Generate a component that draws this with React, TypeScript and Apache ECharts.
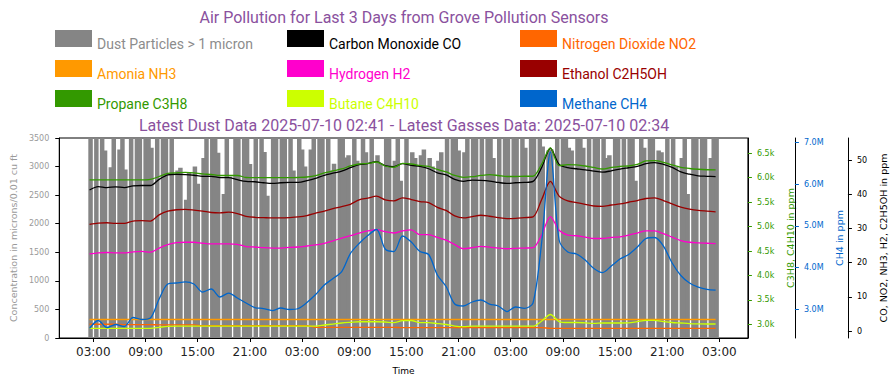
import React, { useEffect, useRef } from "react";
import * as echarts from "echarts";

// ---------------- data ----------------
// Gas readings, hourly from 2025-07-07 02:34 to 2025-07-10 02:34
const gasStart = "2025-07-07 02:34";
const co = [41.3,42.3,42.0,42.2,42.0,42.5,42.6,42.6,44.4,45.7,
  45.9,45.8,45.6,45.3,45.3,44.9,44.9,44.3,43.8,43.7,
  43.4,43.2,43.4,43.5,43.5,44.0,44.7,45.6,46.2,46.8,
  47.8,48.7,49.0,49.6,48.4,48.1,49.0,48.5,48.2,47.5,
  46.3,45.7,44.4,43.8,44.2,44.1,43.9,43.5,43.2,43.4,
  43.5,43.8,47.9,53.5,48.8,47.8,47.5,47.2,46.8,46.5,
  46.9,47.4,47.8,48.2,49.0,49.3,48.8,47.9,46.6,45.9,
  45.4,45.3,45.2];
const no2 = [2.0,2.0,2.0,2.0,1.9,1.9,1.9,1.9,1.8,1.8,
  1.8,1.8,1.8,1.6,1.6,1.6,1.6,1.6,1.6,1.6,
  1.6,1.6,1.6,1.6,1.6,1.6,1.1,1.1,1.1,1.1,
  1.1,1.1,1.1,1.1,1.1,1.1,1.0,1.0,1.0,1.0,
  1.0,1.0,1.0,1.0,1.0,1.0,1.0,1.0,1.0,1.0,
  1.0,1.0,1.0,0.8,0.8,0.8,0.8,0.8,0.8,0.8,
  0.8,0.8,0.8,0.8,0.8,0.8,0.8,0.8,0.8,0.8,
  0.8,0.8,0.8];
const nh3 = [3.4,3.4,3.4,3.4,3.4,3.4,3.4,3.4,3.4,3.4,
  3.4,3.4,3.4,3.4,3.4,3.4,3.4,3.4,3.4,3.4,
  3.4,3.4,3.4,3.4,3.4,3.4,3.4,3.4,3.4,3.4,
  3.4,3.4,3.4,3.4,3.4,3.4,3.4,3.4,3.4,3.4,
  3.4,3.4,3.4,3.4,3.4,3.4,3.4,3.4,3.4,3.4,
  3.4,3.4,3.4,3.4,3.4,3.4,3.4,3.4,3.4,3.4,
  3.4,3.4,3.4,3.4,3.4,3.4,3.4,3.4,3.4,3.4,
  3.4,3.4,3.4];
const h2 = [22.6,22.9,23.0,22.9,22.9,23.2,23.3,23.1,24.3,25.3,
  25.9,26.0,26.0,25.7,25.5,25.5,25.5,25.4,24.7,24.6,
  24.4,24.3,24.3,24.5,24.6,24.9,25.2,25.7,26.4,27.2,
  27.9,28.7,29.3,29.7,29.1,28.7,29.3,29.6,28.2,28.2,
  27.4,26.6,25.3,24.1,24.4,24.8,24.6,24.3,24.1,24.2,
  24.3,24.4,28.2,33.5,29.5,28.1,27.9,27.5,27.1,27.1,
  27.4,27.6,28.1,28.7,29.3,29.3,28.5,27.5,26.5,26.0,
  25.8,25.7,25.6];
const ethanol = [31.2,31.6,31.7,31.5,31.5,32.2,32.3,32.2,34.0,35.1,
  35.5,35.6,35.4,35.1,34.7,34.6,34.8,34.4,33.6,33.3,
  33.2,33.1,33.1,33.2,33.4,33.8,34.5,35.1,35.8,36.4,
  37.1,38.4,38.9,39.5,38.4,38.1,39.0,38.5,37.9,37.6,
  36.2,35.3,33.7,33.1,33.5,33.9,33.6,33.2,32.9,33.0,
  33.2,33.4,38.5,43.8,39.5,38.1,37.6,37.1,36.6,36.5,
  36.9,37.2,37.7,38.2,38.8,39.0,38.2,37.2,36.3,35.7,
  35.3,35.1,34.9];
const propane = [5954,5954,5954,5954,5954,5954,5954,5964,6025,6087,
  6101,6111,6101,6077,6066,6046,6046,6046,6005,6001,
  6001,6001,6001,6001,6005,6015,6042,6097,6138,6179,
  6240,6281,6292,6322,6240,6214,6292,6281,6251,6230,
  6169,6118,6046,6009,6021,6046,6062,6046,6025,6025,
  6030,6030,6281,6609,6247,6267,6261,6240,6210,6179,
  6210,6234,6240,6271,6343,6349,6316,6261,6214,6189,
  6173,6163,6159];
const butane = [2918,2918,2918,2918,2918,2918,2918,2918,2939,2959,
  2965,2965,2965,2965,2965,2965,2965,2965,2965,2965,
  2965,2965,2965,2965,2965,2965,2965,2986,3006,3027,
  3041,3053,3053,3053,3047,3033,3074,3078,3033,3033,
  3016,2996,2965,2951,2961,2961,2961,2961,2961,2961,
  2961,2961,3068,3201,3057,3037,3037,3030,3020,3027,
  3027,3027,3030,3057,3082,3082,3057,3037,3027,3016,
  3010,3006,3006];
const methane = [2545000,2732000,2564000,2636000,2588000,2804000,2756000,2792000,3247000,3606000,
  3630000,3659000,3606000,3414000,3486000,3295000,3390000,3271000,3151000,3043000,
  3019000,2971000,3031000,2995000,3019000,3163000,3354000,3582000,3738000,3905000,
  4337000,4576000,4768000,4911000,4444000,4384000,4756000,4612000,4384000,4313000,
  3822000,3546000,3127000,3079000,3175000,3223000,3127000,3079000,2947000,3055000,
  3024000,3151000,4612000,6768000,4660000,4372000,4325000,4181000,3977000,3879000,
  4037000,4205000,4313000,4492000,4696000,4720000,4516000,4109000,3810000,3630000,
  3534000,3479000,3462000];

// Dust readings every 20 minutes from 2025-07-07 02:41 (null = no reading)
const dustStart = "2025-07-07 02:41";
const dustDay1 = [3800,null,3800,null,3800,3280,null,2990,3800,null,
  3300,3800,2950,null,3800,null,3800,3800,null,3800,
  3800,3330,null,3800,null,3800,3800,null,3800,null,
  2930,2980,null,2420,2900,null,3000,2700,null,3150,
  3800,null,3800,3800,3240,null,2520,3800,2820,null,
  3800,3800,null,3800,3800,3045,null,3800,null,3800,
  3255,2490,null,3800,3800,null,3800,3800,null,3800,
  2930,null];
const dustDay2 = [3800,3300,3000,null,3300,3800,null,3800,3800,null,
  3800,2930,3050,null,3800,3800,3160,3200,null,3800,
  3100,null,3800,3250,null,3800,null,3200,3050,null,
  3800,3800,null,3100,3800,2750,null,3800,null,3250,
  3150,null,3200,3300,null,3150,3000,null,3100,3250,
  null,3800,null,3800,3800,3280,null,3250,3800,null,
  3800,3800,null,3800,null,3800,3800,3150,null,3800,
  null,3800];
const dustDay3 = [3800,null,3800,3800,null,3800,3330,null,3800,3800,
  null,3800,3350,null,3280,3300,null,3800,null,3800,
  3800,3330,3280,null,3800,3800,3330,null,3800,null,
  3800,3800,null,3800,3150,3200,null,3800,3800,null,
  3800,null,3800,3800,2750,null,3800,3330,null,3800,
  3800,null,3280,3250,null,3800,null,3800,3000,null,
  3150,3800,2520,null,3800,3800,null,3800,3800,null,
  3150,3800];
const dustLast = [3800];

// Axis ticks
const xTicks = ["2025-07-07 03:00","2025-07-07 09:00","2025-07-07 15:00","2025-07-07 21:00",
  "2025-07-08 03:00","2025-07-08 09:00","2025-07-08 15:00","2025-07-08 21:00",
  "2025-07-09 03:00","2025-07-09 09:00","2025-07-09 15:00","2025-07-09 21:00","2025-07-10 03:00"];
const xRange = ["2025-07-06 23:05", "2025-07-10 06:17"];
const dustTicks = [0, 3500];
const hydroTicks = [3000, 3500, 4000, 4500, 5000, 5500, 6000, 6500];
const hydroRange = [2720, 6813];
const methaneTicks = [3000000, 4000000, 5000000, 6000000, 7000000];
const methaneRange = [2313000, 7103000];
const ppmTicks = [0, 10, 20, 30, 40, 50];
const ppmRange = [-2.02, 56.5];

const legendNames = ["Dust Particles > 1 micron", "Carbon Monoxide CO", "Nitrogen Dioxide NO2",
  "Amonia NH3", "Hydrogen H2", "Ethanol C2H5OH", "Propane C3H8", "Butane C4H10", "Methane CH4"];

// ---------------- styles ----------------
const C = {
  dust: "#858585", co: "#000000", no2: "#ff6600", nh3: "#ff9900", h2: "#ff00cc",
  eth: "#990000", c3: "#339900", c4: "#ccff00", ch4: "#0066cc",
};
const legendBox = [C.dust, C.co, C.no2, C.nh3, C.h2, C.eth, C.c3, C.c4, C.ch4];
const legendText = ["#8c8c8c", "#000000", "#ff6600", "#ff9900", "#ff00cc", "#990000", "#339900", "#ccff00", "#0066cc"];
const TITLE = "#8a519e";
const AX_FONT = "DejaVu Sans";
const DUST_STEP = 20 * 60 * 1000;

function parse(s: string): number {
  const [d, t] = s.split(" ");
  const [y, m, dd] = d.split("-").map(Number);
  const [hh, mm] = t.split(":").map(Number);
  return new Date(y, m - 1, dd, hh, mm).getTime();
}
const pad = (n: number) => (n < 10 ? "0" : "") + n;

function buildOption() {
  const HOUR = 3600 * 1000;
  const g0 = parse(gasStart);
  const d0 = parse(dustStart);
  const gas = (arr: number[]) => arr.map((v, i) => [g0 + i * HOUR, v]);
  const dustAll = ([] as (number | null)[]).concat(dustDay1, dustDay2, dustDay3, dustLast);
  const dustData: number[][] = [];
  dustAll.forEach((v, i) => { if (v !== null) dustData.push([d0 + i * DUST_STEP, v]); });
  const xTickVals = xTicks.map(parse);

  const legendEls: any[] = [];
  const colX = [55, 287, 520];
  const rowY = [30, 60, 90];
  legendNames.forEach((name, i) => {
    const cx = colX[i % 3];
    const ry = rowY[Math.floor(i / 3)];
    legendEls.push({ type: "rect", shape: { x: cx, y: ry, width: 37, height: 17 }, style: { fill: legendBox[i] }, silent: true });
    legendEls.push({
      type: "text", x: cx + 42, y: ry + 14,
      style: { text: name, fill: legendText[i], fontSize: 14, fontFamily: "Roboto", textAlign: "left", textVerticalAlign: "middle", align: "left", verticalAlign: "middle" },
      silent: true,
    });
  });

  const titleEl = (text: string, y: number) => ({
    type: "text", x: 404, y,
    style: { text, fill: TITLE, fontSize: 16, fontFamily: "Roboto", textAlign: "center", textVerticalAlign: "middle", align: "center", verticalAlign: "middle" },
    silent: true,
  });

  const tickLbl = (color: string) => ({ color, fontSize: 8, fontFamily: AX_FONT });
  const nameStyle = (color: string) => ({ color, fontSize: 9.5, fontFamily: AX_FONT });

  const lineSeries = (name: string, data: number[], color: string, yAxisIndex: number) => ({
    name, type: "line", yAxisIndex, data: gas(data), showSymbol: false, symbol: "none",
    smooth: 0.3, lineStyle: { color, width: 1.3 }, itemStyle: { color }, z: 3,
  });

  return {
    animation: false,
    backgroundColor: "#ffffff",
    grid: { left: 55, right: 144, top: 138, bottom: 47, show: true, borderColor: "#000", borderWidth: 1, backgroundColor: "transparent" },
    graphic: [titleEl("Air Pollution for Last 3 Days from Grove Pollution Sensors", 17), titleEl("Latest Dust Data 2025-07-10 02:41 - Latest Gasses Data: 2025-07-10 02:34", 125), ...legendEls],
    xAxis: {
      type: "value", min: parse(xRange[0]), max: parse(xRange[1]),
      axisLine: { show: true, lineStyle: { color: "#000", width: 1 } },
      axisTick: { show: true, customValues: xTickVals, length: 4, lineStyle: { color: "#000" } },
      axisLabel: { customValues: xTickVals, formatter: (v: number) => { const d = new Date(v); return pad(d.getHours()) + ":" + pad(d.getMinutes()); }, color: "#222", fontSize: 12, fontFamily: AX_FONT, margin: 8 },
      splitLine: { show: false },
      name: "Time", nameLocation: "middle", nameGap: 28, nameTextStyle: { color: "#000", fontSize: 9, fontFamily: AX_FONT },
    },
    yAxis: [
      {
        type: "value", position: "left", min: dustTicks[0], max: dustTicks[1], interval: 500,
        axisLine: { show: true, lineStyle: { color: "#000" } },
        axisTick: { show: true, length: 4, lineStyle: { color: "#000" } },
        axisLabel: { ...tickLbl("#9a9a9a"), margin: 10, formatter: (v: number) => String(v) },
        splitLine: { show: false },
        name: "Concentration in microns/0.01 cu ft", nameLocation: "middle", nameRotate: 90, nameGap: 38,
        nameTextStyle: nameStyle("#9a9a9a"),
      },
      {
        type: "value", position: "right", offset: 0, min: hydroRange[0], max: hydroRange[1],
        axisLine: { show: true, lineStyle: { color: "#000" } },
        axisTick: { show: true, customValues: hydroTicks, length: 4, lineStyle: { color: C.c3 } },
        axisLabel: { ...tickLbl(C.c3), customValues: hydroTicks, margin: 9, formatter: (v: number) => (v / 1000).toFixed(1) + "k" },
        splitLine: { show: false },
        name: "C3H8, C4H10 in ppm", nameLocation: "middle", nameRotate: 90, nameGap: 30,
        nameTextStyle: nameStyle(C.c3),
      },
      {
        type: "value", position: "right", offset: 47, min: methaneRange[0], max: methaneRange[1],
        axisLine: { show: true, lineStyle: { color: "#000" } },
        axisTick: { show: true, customValues: methaneTicks, length: 4, lineStyle: { color: C.ch4 } },
        axisLabel: { ...tickLbl(C.ch4), customValues: methaneTicks, margin: 9, formatter: (v: number) => (v / 1e6).toFixed(1) + "M" },
        splitLine: { show: false },
        name: "CH4 in ppm", nameLocation: "middle", nameRotate: 90, nameGap: 32,
        nameTextStyle: nameStyle(C.ch4),
      },
      {
        type: "value", position: "right", offset: 100, min: ppmRange[0], max: ppmRange[1],
        axisLine: { show: true, lineStyle: { color: "#000" } },
        axisTick: { show: true, customValues: ppmTicks, length: 4, lineStyle: { color: "#000" } },
        axisLabel: { ...tickLbl("#000"), customValues: ppmTicks, margin: 9 },
        splitLine: { show: false },
        name: "CO, NO2, NH3, H2, C2H5OH in ppm", nameLocation: "middle", nameRotate: 90, nameGap: 24,
        nameTextStyle: nameStyle("#000"),
      },
    ],
    series: [
      {
        name: "Dust Particles > 1 micron", type: "custom", yAxisIndex: 0, data: dustData, clip: true, z: 1,
        encode: { x: 0, y: 1 },
        renderItem: (params: any, api: any) => {
          const t = api.value(0);
          const v = api.value(1);
          const top = api.coord([t, v]);
          const base = api.coord([t, 0]);
          const w = api.size([DUST_STEP, 0])[0] * 1.55;
          return {
            type: "rect",
            shape: { x: top[0] - w / 2, y: top[1], width: w, height: base[1] - top[1] },
            style: { fill: C.dust },
          };
        },
      },
      lineSeries("Carbon Monoxide CO", co, C.co, 3),
      lineSeries("Nitrogen Dioxide NO2", no2, C.no2, 3),
      lineSeries("Amonia NH3", nh3, C.nh3, 3),
      lineSeries("Hydrogen H2", h2, C.h2, 3),
      lineSeries("Ethanol C2H5OH", ethanol, C.eth, 3),
      lineSeries("Propane C3H8", propane, C.c3, 1),
      lineSeries("Butane C4H10", butane, C.c4, 1),
      lineSeries("Methane CH4", methane, C.ch4, 2),
    ],
  };
}

export default function App() {
  const ref = useRef<HTMLDivElement>(null);
  useEffect(() => {
    const chart = echarts.init(ref.current as HTMLDivElement, null, { renderer: "svg" });
    chart.setOption(buildOption() as any);
    return () => chart.dispose();
  }, []);
  return <div ref={ref} style={{ position: "fixed", left: 0, top: 0, width: 896, height: 385, background: "#fff" }} />;
}
